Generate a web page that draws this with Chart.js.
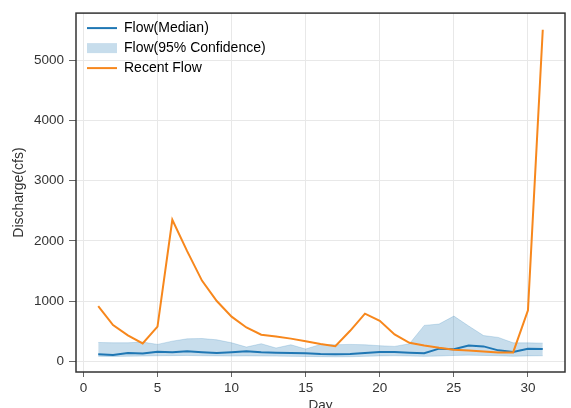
<!DOCTYPE html>
<html>
<head>
<meta charset="utf-8">
<script src="https://cdn.jsdelivr.net/npm/chart.js@4"></script>
<style>
  html, body { margin: 0; padding: 0; background: #fff; }
  #wrap { width: 571px; height: 408px; }
</style>
</head>
<body>
<div id="wrap"><canvas id="flowChart" width="571" height="408"></canvas></div>
<script>
// Data
const days = [1, 2, 3, 4, 5, 6, 7, 8, 9, 10, 11, 12, 13, 14, 15, 16, 17, 18, 19, 20, 21, 22, 23, 24, 25, 26, 27, 28, 29, 30, 31];
const medianFlow = [115, 104, 137, 126, 158, 148, 164, 150, 137, 148, 164, 148, 142, 137, 131, 120, 115, 120, 137, 153, 153, 142, 131, 208, 200, 262, 246, 180, 153, 208, 202];
const bandUpper = [311, 306, 306, 317, 279, 333, 372, 377, 355, 306, 235, 290, 219, 273, 202, 279, 273, 279, 273, 257, 246, 290, 595, 617, 750, 585, 426, 395, 305, 305, 300];
const bandLower = [80, 78, 82, 85, 90, 92, 95, 90, 88, 85, 88, 86, 84, 80, 78, 75, 72, 74, 80, 88, 90, 86, 80, 85, 95, 100, 95, 90, 82, 88, 90];
const recentFlow = [915, 600, 430, 295, 575, 2350, 1830, 1340, 1000, 740, 560, 440, 410, 375, 330, 285, 250, 505, 790, 670, 445, 305, 260, 222, 191, 177, 160, 145, 145, 845, 5510];
const xTicks = [0, 5, 10, 15, 20, 25, 30];
const yTicks = [0, 1000, 2000, 3000, 4000, 5000];

const blue = "#1f77b4";
const orange = "#f7871c";
const bandFill = "rgba(31, 119, 180, 0.25)";
const textColor = "#333";
const fontFamily = "'Liberation Sans', Arial, sans-serif";

// Draw the full box around the plot area
const frame = {
  id: "frame",
  afterDraw(chart) {
    const { ctx, chartArea: a } = chart;
    ctx.save();
    ctx.strokeStyle = "#333";
    ctx.lineWidth = 1.5;
    ctx.strokeRect(a.left, a.top, a.right - a.left, a.bottom - a.top);
    ctx.restore();
  },
};

// Nudge the in-plot legend a bit away from the corner
const legendNudge = {
  id: "legendNudge",
  afterLayout(chart) {
    const lg = chart.legend;
    if (lg) {
      const h = lg.bottom - lg.top;
      lg.left = chart.chartArea.left + 5;
      lg.top = chart.chartArea.top + 2;
      lg.bottom = lg.top + h;
    }
  },
};

const ctx = document.getElementById("flowChart").getContext("2d");
new Chart(ctx, {
  type: "line",
  data: {
    labels: days,
    datasets: [
      {
        label: "Flow(Median)",
        data: medianFlow,
        borderColor: blue,
        borderWidth: 2,
        pointRadius: 0,
        fill: false,
        order: 1,
      },
      {
        label: "Flow(95% Confidence)",
        data: bandUpper,
        borderColor: bandFill,
        borderWidth: 0.8,
        backgroundColor: bandFill,
        pointRadius: 0,
        fill: "+1",
        order: 2,
      },
      {
        label: "lower",
        data: bandLower,
        borderColor: bandFill,
        borderWidth: 0.8,
        pointRadius: 0,
        fill: false,
        order: 3,
      },
      {
        label: "Recent Flow",
        data: recentFlow,
        borderColor: orange,
        borderWidth: 2,
        pointRadius: 0,
        fill: false,
        order: 0,
      },
    ],
  },
  options: {
    responsive: false,
    animation: false,
    devicePixelRatio: 1,
    layout: { padding: { top: 8, right: 6, left: 0, bottom: 0 } },
    plugins: {
      tooltip: { enabled: false },
      legend: {
        position: "chartArea",
        align: "start",
        labels: {
          usePointStyle: true,
          pointStyleWidth: 30,
          boxHeight: 10,
          padding: 6,
          color: "#222",
          font: { family: fontFamily, size: 14 },
          generateLabels: () => [
            { text: "Flow(Median)", pointStyle: "line", strokeStyle: blue, fillStyle: blue, lineWidth: 2, datasetIndex: 0 },
            { text: "Flow(95% Confidence)", pointStyle: "rect", strokeStyle: bandFill, fillStyle: bandFill, lineWidth: 0, datasetIndex: 1 },
            { text: "Recent Flow", pointStyle: "line", strokeStyle: orange, fillStyle: orange, lineWidth: 2, datasetIndex: 3 },
          ],
        },
      },
    },
    scales: {
      x: {
        type: "linear",
        min: -0.5,
        max: 32.5,
        afterBuildTicks: (scale) => {
          scale.ticks = xTicks.map((v) => ({ value: v }));
        },
        afterFit: (scale) => {
          scale.height = 36;
        },
        border: { display: false },
        grid: { color: "#e8e8e8", tickColor: "#666", tickLength: 5, lineWidth: 1 },
        ticks: { color: textColor, padding: 3, maxRotation: 0, font: { family: fontFamily, size: 13.5 } },
        title: {
          display: true,
          text: "Day",
          color: textColor,
          font: { family: fontFamily, size: 13.5 },
          padding: { top: 0, bottom: -5 },
        },
      },
      y: {
        type: "linear",
        min: -180,
        max: 5787,
        afterBuildTicks: (scale) => {
          scale.ticks = yTicks.map((v) => ({ value: v }));
        },
        afterFit: (scale) => {
          scale.width = 76;
        },
        border: { display: false },
        grid: { color: "#e8e8e8", tickColor: "#666", tickLength: 7, lineWidth: 1 },
        ticks: {
          color: textColor,
          padding: 5,
          font: { family: fontFamily, size: 13.5 },
          callback: (v) => String(v),
        },
        title: {
          display: true,
          text: "Discharge(cfs)",
          color: textColor,
          font: { family: fontFamily, size: 14 },
          padding: { top: 11, bottom: 0 },
        },
      },
    },
  },
  plugins: [frame, legendNudge],
});
</script>
</body>
</html>
